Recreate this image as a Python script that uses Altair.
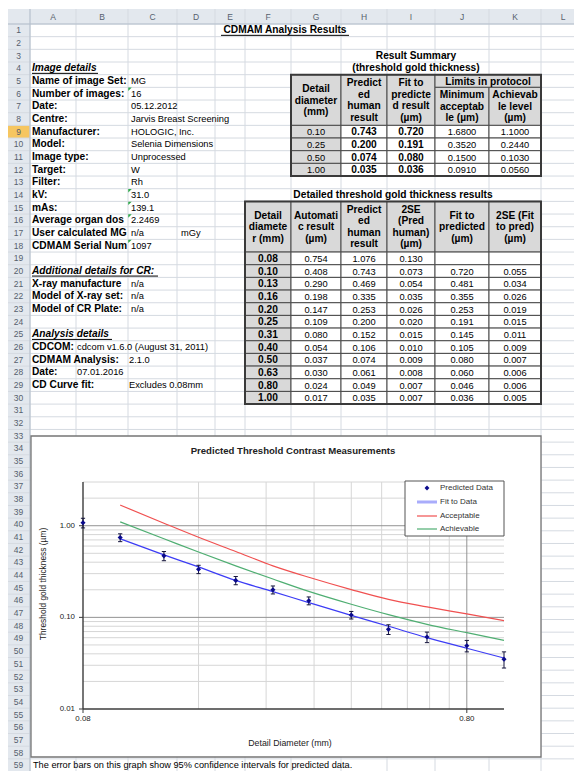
import altair as alt
import pandas as pd

FONT = "Liberation Sans"

# ---------------- chart values ----------------
diameters = [0.08, 0.10, 0.13, 0.16, 0.20, 0.25, 0.31, 0.40, 0.50, 0.63, 0.80, 1.00]
automatic_result = [0.754, 0.408, 0.290, 0.198, 0.147, 0.109, 0.080, 0.054, 0.037, 0.030, 0.024, 0.017]
predicted_human = [1.076, 0.743, 0.469, 0.335, 0.253, 0.200, 0.152, 0.106, 0.074, 0.061, 0.049, 0.035]
two_se_pred = [0.130, 0.073, 0.054, 0.035, 0.026, 0.020, 0.015, 0.010, 0.009, 0.008, 0.007, 0.007]
fit_to_pred = [None, 0.720, 0.481, 0.355, 0.253, 0.191, 0.145, 0.105, 0.080, 0.060, 0.046, 0.036]
two_se_fit = [None, 0.055, 0.034, 0.026, 0.019, 0.015, 0.011, 0.009, 0.007, 0.006, 0.006, 0.005]
acceptable = [None, 1.68, 1.065, 0.748, 0.523, 0.365, 0.274, 0.201, 0.157, 0.130, 0.109, 0.092]
achievable = [None, 1.10, 0.721, 0.516, 0.365, 0.262, 0.192, 0.139, 0.107, 0.084, 0.068, 0.056]

series_names = ["Fit to Data", "Acceptable", "Achievable"]
series_colors = ["#3c3cf5", "#f05050", "#4fae72"]
legend_names = ["Predicted Data", "Fit to Data", "Acceptable", "Achievable"]

y_tick_values = [1.0, 0.1, 0.01]
y_tick_labels = ["1.00", "0.10", "0.01"]
x_tick_values = [0.08, 0.8]
x_tick_labels = ["0.08", "0.80"]
y_minor_grid = [0.02, 0.03, 0.04, 0.05, 0.06, 0.07, 0.08, 0.09,
                0.2, 0.3, 0.4, 0.5, 0.6, 0.7, 0.8, 0.9, 2.0, 3.0]
y_major_grid = [0.1, 1.0]
x_minor_grid = [0.16, 0.24, 0.32, 0.40, 0.48, 0.56, 0.64, 0.72]
x_major_grid = [0.8]

# ---------------- sheet texts ----------------
sheet_title = "CDMAM Analysis Results"
image_labels = ["Name of image Set:", "Number of images:", "Date:", "Centre:", "Manufacturer:",
                "Model:", "Image type:", "Target:", "Filter:", "kV:", "mAs:",
                "Average organ dos", "User calculated MG", "CDMAM Serial Num"]
image_values = ["MG", "16", "05.12.2012", "Jarvis Breast Screening", "HOLOGIC, Inc.",
                "Selenia Dimensions", "Unprocessed", "W", "Rh", "31.0", "139.1",
                "2.2469", "n/a", "1097"]
cr_labels = ["X-ray manufacture", "Model of X-ray set:", "Model of CR Plate:"]
cr_values = ["n/a", "n/a", "n/a"]
analysis_labels = ["CDCOM:", "CDMAM Analysis:", "Date:", "CD Curve fit:"]
analysis_values = ["cdcom v1.6.0 (August 31, 2011)", "2.1.0", "07.01.2016", "Excludes 0.08mm"]
analysis_value_cols = ["B", "C", "B", "C"]
headings = ["Image details", "Additional details for CR:", "Analysis details"]
note_text = "The error bars on this graph show 95% confidence intervals for predicted data."

summary_title = ["Result Summary", "(threshold gold thickness)"]
summary_headers = ["Detail\ndiameter\n(mm)", "Predict\ned\nhuman\nresult", "Fit to\npredicte\nd result\n(\u00b5m)"]
summary_limits = "Limits in protocol"
summary_limit_headers = ["Minimum\nacceptab\nle (\u00b5m)", "Achievab\nle level\n(\u00b5m)"]
summary_diam = ["0.10", "0.25", "0.50", "1.00"]
summary_pred = ["0.743", "0.200", "0.074", "0.035"]
summary_fit = ["0.720", "0.191", "0.080", "0.036"]
summary_min = ["1.6800", "0.3520", "0.1500", "0.0910"]
summary_ach = ["1.1000", "0.2440", "0.1030", "0.0560"]

detail_title = "Detailed threshold gold thickness results"
detail_headers = ["Detail\ndiamete\nr (mm)", "Automati\nc result\n(\u00b5m)", "Predict\ned\nhuman\nresult",
                  "2SE\n(Pred\nhuman)\n(\u00b5m)", "Fit to\npredicted\n(\u00b5m)", "2SE (Fit\nto pred)\n(\u00b5m)"]

chart_title = "Predicted Threshold Contrast Measurements"
x_title = "Detail Diameter (mm)"
y_title = "Threshold gold thickness (\u00b5m)"

# ---------------- layout ----------------
W, H = 566, 763
PX = alt.Scale(domain=[8, 8 + W], range=[0, W], nice=False, zero=False)
PY = alt.Scale(domain=[8, 8 + H], range=[0, H], nice=False, zero=False)
COL_EDGES = [7, 30, 76, 128, 177, 215, 245, 291, 341, 387, 435, 489, 541, 585]
COLS = "ABCDEFGHIJKL"
HDR_TOP, HDR_BOT, RH = 9, 24, 12.67
GREY = "#d9d9d9"
GRID = "#d5dae1"
HDR_FILL = "#e3e8ee"
HDR_TEXT = "#56606d"
LH = 11.5
BOLD_SIZE = 10.2
REG_SIZE = 9.3


def cl(c):
    return COL_EDGES[COLS.index(c) + 1]


def cr(c):
    return COL_EDGES[COLS.index(c) + 2]


def rt(r):
    return HDR_BOT + (r - 1) * RH


def rm(r):
    return rt(r) + RH / 2


def rects(df, **mk):
    enc = dict(x=alt.X("x:Q", scale=PX, axis=None), x2="x2:Q",
               y=alt.Y("y:Q", scale=PY, axis=None), y2="y2:Q")
    if "fill" in df.columns:
        enc["fill"] = alt.Fill("fill:N", scale=None)
    return alt.Chart(df).mark_rect(**mk).encode(**enc)


def prules(df, **mk):
    return alt.Chart(df).mark_rule(**mk).encode(
        x=alt.X("x:Q", scale=PX, axis=None), x2="x2:Q",
        y=alt.Y("y:Q", scale=PY, axis=None), y2="y2:Q")


def ptext(df, size=REG_SIZE, weight="normal", style="normal", align="left", color="black", angle=0, lh=LH):
    return alt.Chart(df).mark_text(
        font=FONT, fontSize=size, fontWeight=weight, fontStyle=style, align=align,
        baseline="middle", color=color, angle=angle, lineBreak="\n", lineHeight=lh
    ).encode(x=alt.X("x:Q", scale=PX, axis=None), y=alt.Y("y:Q", scale=PY, axis=None),
             text=alt.Text("t:N"))


bottom = []

# header bands
bottom.append(rects(pd.DataFrame({
    "x": [7, 7], "x2": [620, 30], "y": [HDR_TOP, HDR_BOT], "y2": [HDR_BOT, 800],
    "fill": [HDR_FILL, HDR_FILL]})))
# row 9 highlight
bottom.append(rects(pd.DataFrame({"x": [7], "x2": [30], "y": [rt(9)], "y2": [rt(10)], "fill": ["#f6c660"]})))
# grid lines
vlines = pd.DataFrame({"x": COL_EDGES[1:], "x2": COL_EDGES[1:], "y": HDR_TOP, "y2": 800})
hlines = pd.DataFrame({"x": 7, "x2": 620, "y": [rt(r) for r in range(1, 62)],
                       "y2": [rt(r) for r in range(1, 62)]})
bottom.append(prules(vlines, color=GRID, strokeWidth=1))
bottom.append(prules(hlines, color=GRID, strokeWidth=1))
bottom.append(prules(pd.DataFrame({"x": [7], "x2": [620], "y": [HDR_BOT], "y2": [HDR_BOT]}),
                     color="#b4bfcc", strokeWidth=1))
bottom.append(prules(pd.DataFrame({"x": [30], "x2": [30], "y": [HDR_TOP], "y2": [800]}),
                     color="#b4bfcc", strokeWidth=1))
# header labels
bottom.append(ptext(pd.DataFrame({
    "x": [(cl(c) + cr(c)) / 2 for c in COLS], "y": (HDR_TOP + HDR_BOT) / 2, "t": list(COLS)}),
    size=8.5, align="center", color=HDR_TEXT))
bottom.append(ptext(pd.DataFrame({
    "x": 18.5, "y": [rm(r) for r in range(1, 60)], "t": [str(r) for r in range(1, 60)]}),
    size=8.5, align="center", color=HDR_TEXT))

# ---------- tables ----------
cells = []


def add_cell(c1, c2, r1, r2, t, fill, bold):
    n = t.count("\n") + 1
    cells.append({"x": cl(c1), "x2": cr(c2), "y": rt(r1), "y2": rt(r2 + 1),
                  "tx": (cl(c1) + cr(c2)) / 2,
                  "ty": (rt(r1) + rt(r2 + 1)) / 2 - (n - 1) * LH / 2 + 0.5,
                  "t": t, "fill": fill, "bold": bold})


for c, t in zip("GHI", summary_headers):
    add_cell(c, c, 5, 8, t, GREY, True)
add_cell("J", "K", 5, 5, summary_limits, GREY, True)
for c, t in zip("JK", summary_limit_headers):
    add_cell(c, c, 6, 8, t, GREY, True)
for i in range(4):
    r = 9 + i
    add_cell("G", "G", r, r, summary_diam[i], GREY, False)
    add_cell("H", "H", r, r, summary_pred[i], "white", True)
    add_cell("I", "I", r, r, summary_fit[i], "white", True)
    add_cell("J", "J", r, r, summary_min[i], "white", False)
    add_cell("K", "K", r, r, summary_ach[i], "white", False)

for c, t in zip("FGHIJK", detail_headers):
    add_cell(c, c, 15, 18, t, GREY, True)
for i, d in enumerate(diameters):
    r = 19 + i
    vals = ["%.2f" % d, "%.3f" % automatic_result[i], "%.3f" % predicted_human[i],
            "%.3f" % two_se_pred[i],
            "" if fit_to_pred[i] is None else "%.3f" % fit_to_pred[i],
            "" if two_se_fit[i] is None else "%.3f" % two_se_fit[i]]
    for j, c in enumerate("FGHIJK"):
        add_cell(c, c, r, r, vals[j], GREY if j == 0 else "white", j == 0)

cdf = pd.DataFrame(cells)
bottom.append(rects(cdf[["x", "x2", "y", "y2", "fill"]], stroke="#4a4a4a", strokeWidth=1))
bottom.append(rects(pd.DataFrame({"x": [cl("G"), cl("F")], "x2": [cr("K"), cr("K")],
                                  "y": [rt(5), rt(15)], "y2": [rt(13), rt(31)]}),
                    filled=False, stroke="#3a3a3a", strokeWidth=2))
tcells = cdf[["tx", "ty", "t", "bold"]].rename(columns={"tx": "x", "ty": "y"})
bottom.append(ptext(tcells[tcells["bold"]][["x", "y", "t"]], size=BOLD_SIZE, weight="bold", align="center"))
bottom.append(ptext(tcells[~tcells["bold"]][["x", "y", "t"]], align="center"))

# ---------- titles over tables ----------
bottom.append(ptext(pd.DataFrame({"x": [(cl("G") + cr("K")) / 2] * 2, "y": [rm(3), rm(4)], "t": summary_title}),
                    size=BOLD_SIZE, weight="bold", align="center"))
bottom.append(ptext(pd.DataFrame({"x": [(cl("F") + cr("K")) / 2], "y": [rm(14)], "t": [detail_title]}),
                    size=BOLD_SIZE, weight="bold", align="center"))
bottom.append(ptext(pd.DataFrame({"x": [285], "y": [rm(1)], "t": [sheet_title]}),
                    size=BOLD_SIZE, weight="bold", align="center"))

# ---------- left information block ----------
lab_rows = list(range(5, 19)) + [21, 22, 23] + [26, 27, 28, 29]
lab_text = image_labels + cr_labels + analysis_labels
bottom.append(ptext(pd.DataFrame({"x": cl("A") + 2, "y": [rm(r) for r in lab_rows], "t": lab_text}),
                    size=BOLD_SIZE, weight="bold"))
val_rows = list(range(5, 19)) + [21, 22, 23] + [26, 27, 28, 29] + [17]
val_x = [cl("C") + 3] * 17 + [cl(c) + 1 for c in analysis_value_cols] + [cl("D") + 4]
val_text = image_values + cr_values + analysis_values + ["mGy"]
bottom.append(ptext(pd.DataFrame({"x": val_x, "y": [rm(r) for r in val_rows], "t": val_text})))
head_rows = [4, 20, 25]
bottom.append(ptext(pd.DataFrame({"x": cl("A") + 2, "y": [rm(r) for r in head_rows], "t": headings}),
                    size=BOLD_SIZE, weight="bold", style="italic"))
underline_w = [66, 126, 80]
ul = pd.DataFrame({"x": cl("A") + 2, "x2": [cl("A") + 2 + w for w in underline_w],
                   "y": [rm(r) + 5 for r in head_rows], "y2": [rm(r) + 5 for r in head_rows]})
ul = pd.concat([ul, pd.DataFrame({"x": [221], "x2": [349], "y": [rm(1) + 5], "y2": [rm(1) + 5]})])
bottom.append(prules(ul, color="black", strokeWidth=1))
tri_rows = [6, 14, 15, 16, 18]
bottom.append(alt.Chart(pd.DataFrame({"x": cl("C") + 2, "y": [rt(r) + 2 for r in tri_rows]})).mark_point(
    shape="M -1 -1 L 1 -1 L -1 1 Z", filled=True, color="#2ea84a", size=12, opacity=1).encode(
    x=alt.X("x:Q", scale=PX, axis=None), y=alt.Y("y:Q", scale=PY, axis=None)))

# note in row 59
bottom.append(ptext(pd.DataFrame({"x": [33], "y": [rm(59)], "t": [note_text]}), size=9.2))

# ---------- chart frame and texts ----------
bottom.append(rects(pd.DataFrame({"x": [31], "x2": [541], "y": [436], "y2": [757], "fill": ["white"]}),
                    stroke="#757575", strokeWidth=1.3))
bottom.append(ptext(pd.DataFrame({"x": [293], "y": [451], "t": [chart_title]}), size=9.6,
                    weight="bold", align="center", color="#222"))
bottom.append(ptext(pd.DataFrame({"x": [290], "y": [743], "t": [x_title]}), size=8.8,
                    align="center", color="#222"))
bottom.append(ptext(pd.DataFrame({"x": [43], "y": [584], "t": [y_title]}), size=8.4,
                    align="center", color="#222", angle=270))

# ---------------- log-log plot ----------------
LX = alt.Scale(type="log", domain=[0.08, 1.0], range=[75, 496], nice=False)
LY = alt.Scale(type="log", domain=[0.01, 3.0], range=[701, 474], nice=False)


def lx(f):
    return alt.X(f, scale=LX, axis=None)


def ly(f):
    return alt.Y(f, scale=LY, axis=None)


plot = []
plot.append(alt.Chart(pd.DataFrame({"v": y_minor_grid, "a": 0.08, "b": 1.0})).mark_rule(
    color="#d6d6d6", strokeWidth=1).encode(x=lx("a:Q"), x2="b:Q", y=ly("v:Q")))
plot.append(alt.Chart(pd.DataFrame({"v": x_minor_grid, "a": 0.01, "b": 3.0})).mark_rule(
    color="#d6d6d6", strokeWidth=1).encode(x=lx("v:Q"), y=ly("a:Q"), y2="b:Q"))
plot.append(alt.Chart(pd.DataFrame({"v": y_major_grid, "a": 0.08, "b": 1.0})).mark_rule(
    color="#939393", strokeWidth=1).encode(x=lx("a:Q"), x2="b:Q", y=ly("v:Q")))
plot.append(alt.Chart(pd.DataFrame({"v": x_major_grid, "a": 0.01, "b": 3.0})).mark_rule(
    color="#939393", strokeWidth=1).encode(x=lx("v:Q"), y=ly("a:Q"), y2="b:Q"))
# axis lines
plot.append(alt.Chart(pd.DataFrame({"v": [0.08], "a": [0.01], "b": [3.0]})).mark_rule(
    color="#3c3c3c", strokeWidth=1.4).encode(x=lx("v:Q"), y=ly("a:Q"), y2="b:Q"))
plot.append(alt.Chart(pd.DataFrame({"v": [0.01], "a": [0.08], "b": [1.0]})).mark_rule(
    color="#3c3c3c", strokeWidth=1.4).encode(x=lx("a:Q"), x2="b:Q", y=ly("v:Q")))
# ticks and labels
plot.append(alt.Chart(pd.DataFrame({"v": y_tick_values})).mark_rule(color="#3c3c3c", strokeWidth=1).encode(
    x=alt.value(71), x2=alt.value(75), y=ly("v:Q")))
plot.append(alt.Chart(pd.DataFrame({"v": x_tick_values})).mark_rule(color="#3c3c3c", strokeWidth=1).encode(
    x=lx("v:Q"), y=alt.value(701), y2=alt.value(705)))
plot.append(alt.Chart(pd.DataFrame({"v": y_tick_values, "t": y_tick_labels})).mark_text(
    font=FONT, fontSize=7.9, align="right", baseline="middle", color="#222").encode(
    x=alt.value(67), y=ly("v:Q"), text="t:N"))
plot.append(alt.Chart(pd.DataFrame({"v": x_tick_values, "t": x_tick_labels})).mark_text(
    font=FONT, fontSize=7.9, align="center", baseline="middle", color="#222").encode(
    x=lx("v:Q"), y=alt.value(711), text="t:N"))

# series lines
rows = []
for name, vals in zip(series_names, [fit_to_pred, acceptable, achievable]):
    for d, v in zip(diameters, vals):
        if v is not None:
            rows.append({"d": d, "v": v, "series": name})
plot.append(alt.Chart(pd.DataFrame(rows)).mark_line(strokeWidth=1.2, interpolate="monotone").encode(
    x=lx("d:Q"), y=ly("v:Q"),
    color=alt.Color("series:N", scale=alt.Scale(domain=series_names, range=series_colors), legend=None)))

# error bars and points
eb = pd.DataFrame({"d": diameters,
                   "lo": [p - s for p, s in zip(predicted_human, two_se_pred)],
                   "hi": [p + s for p, s in zip(predicted_human, two_se_pred)],
                   "p": predicted_human})
plot.append(alt.Chart(eb).mark_rule(color="#14143c", strokeWidth=1).encode(
    x=lx("d:Q"), y=ly("lo:Q"), y2="hi:Q"))
caps = pd.concat([eb[["d", "lo"]].rename(columns={"lo": "v"}), eb[["d", "hi"]].rename(columns={"hi": "v"})])
plot.append(alt.Chart(caps).mark_point(shape="M -1 0 L 1 0", filled=False, color="#14143c",
                                       strokeWidth=1, size=18, opacity=1).encode(x=lx("d:Q"), y=ly("v:Q")))
plot.append(alt.Chart(eb).mark_point(shape="diamond", filled=True, color="#0a0a8c", size=26, opacity=1).encode(
    x=lx("d:Q"), y=ly("p:Q")))

# ---------------- legend (on top) ----------------
top = []
top.append(rects(pd.DataFrame({"x": [405], "x2": [504], "y": [481], "y2": [536], "fill": ["white"]}),
                 stroke="#555555", strokeWidth=1))
leg_y = [488, 502, 516, 529]
top.append(alt.Chart(pd.DataFrame({"x": [427], "y": [leg_y[0]]})).mark_point(
    shape="diamond", filled=True, color="#0a0a8c", size=24, opacity=1).encode(
    x=alt.X("x:Q", scale=PX, axis=None), y=alt.Y("y:Q", scale=PY, axis=None)))
top.append(alt.Chart(pd.DataFrame({"x": [417], "x2": [437], "y": [leg_y[1]], "y2": [leg_y[1]]})).mark_rule(
    color="#a9acfb", strokeWidth=3).encode(
    x=alt.X("x:Q", scale=PX, axis=None), x2="x2:Q", y=alt.Y("y:Q", scale=PY, axis=None), y2="y2:Q"))
top.append(alt.Chart(pd.DataFrame({"x": 417, "x2": 437, "y": leg_y[2:], "y2": leg_y[2:],
                                   "series": series_names[1:]})).mark_rule(strokeWidth=1.2).encode(
    x=alt.X("x:Q", scale=PX, axis=None), x2="x2:Q", y=alt.Y("y:Q", scale=PY, axis=None), y2="y2:Q",
    color=alt.Color("series:N", scale=alt.Scale(domain=series_names, range=series_colors), legend=None)))
top.append(ptext(pd.DataFrame({"x": 440, "y": leg_y, "t": legend_names}), size=8.0, color="#333"))

chart = alt.layer(
    alt.layer(*bottom),
    alt.layer(*plot),
    alt.layer(*top),
).resolve_scale(x="independent", y="independent", color="independent").properties(
    width=W, height=H, padding=0, autosize="none", background="white"
).configure_view(stroke=None)

chart.save("out.html", embed_options={"renderer": "svg", "actions": False})
